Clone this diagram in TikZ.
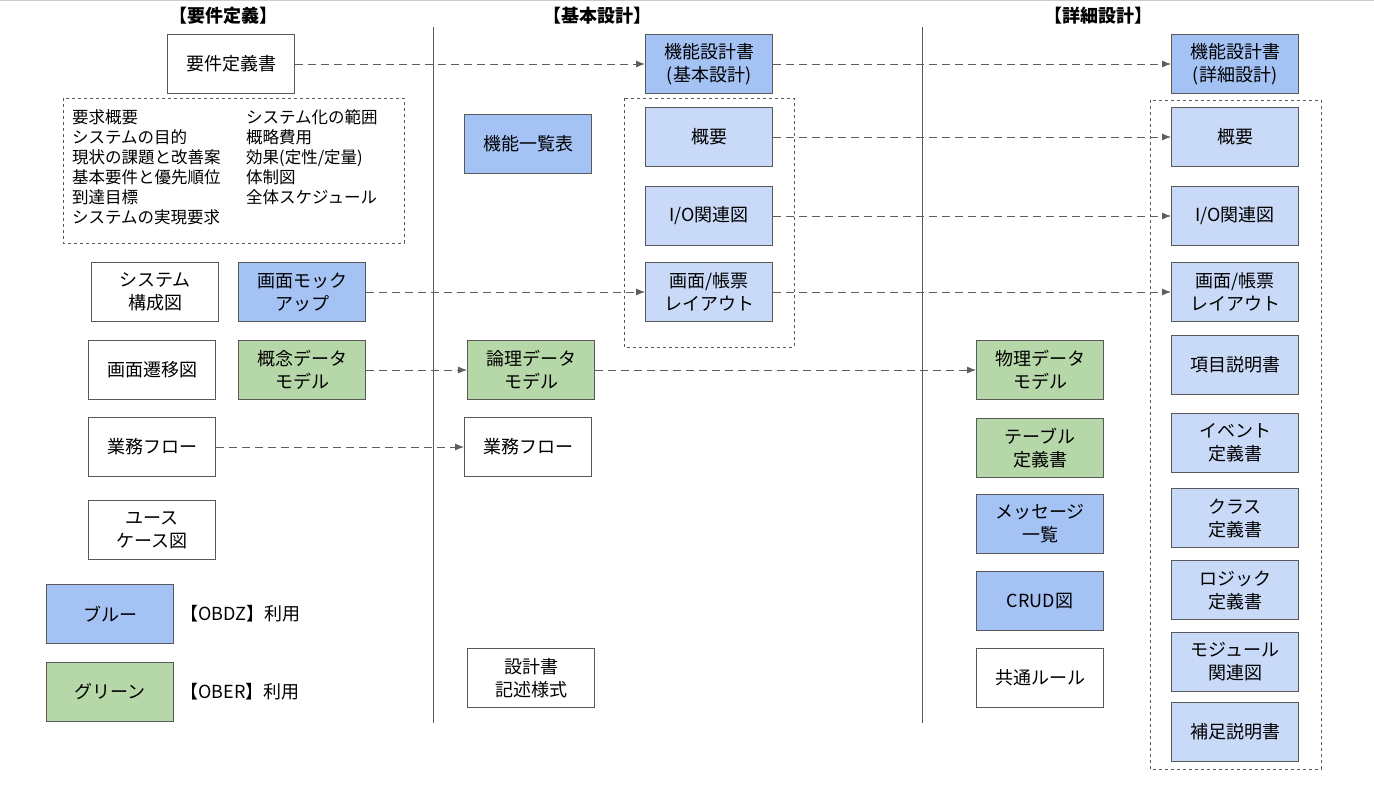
\documentclass[tikz,border=0pt]{standalone}
\usepackage{fontspec}
\setmainfont{Noto Sans CJK JP}
\usetikzlibrary{arrows.meta}
\definecolor{obdzBlue}{HTML}{A4C2F4}
\definecolor{subBlue}{HTML}{C9DAF8}
\definecolor{oberGreen}{HTML}{B6D7A8}
\definecolor{edgeGray}{HTML}{595959}
\definecolor{arrGray}{HTML}{5E5E5E}

\begin{document}
\begin{tikzpicture}[x=1pt, y=-1pt,
  doc/.style={draw=edgeGray, line width=1pt, minimum width=127pt, minimum height=59pt,
    align=center, inner sep=2pt, font=\fontsize{18}{23}\selectfont},
  obdz/.style={doc, fill=obdzBlue},
  subdoc/.style={doc, fill=subBlue},
  ober/.style={doc, fill=oberGreen},
  phase/.style={font=\fontsize{18}{22}\selectfont\bfseries},
  legtxt/.style={font=\fontsize{18}{22}\selectfont},
  grp/.style={draw=edgeGray, dashed, line width=.7pt},
  flow/.style={arrows={-{Latex[length=9pt, width=7pt]}}, draw=arrGray, dash pattern=on 8pt off 5pt, line width=.8pt}]
\useasboundingbox (0,0) rectangle (1374,793);
\draw[black!20, line width=1pt] (0,0.5) -- (1374,0.5);

\node[phase] at (223,16) (phReq) {【要件定義】};
\node[phase] at (597,16) (phBasic) {【基本設計】};
\node[phase] at (1098,16) (phDetail) {【詳細設計】};

\draw[edgeGray, line width=.8pt] (433,27) -- (433,723);
\draw[edgeGray, line width=.8pt] (922,27) -- (922,723);

%requirements
\node[doc] at (231,64) (reqDoc) {要件定義書};
\draw[grp] (63,98) rectangle (404,243);
\node[anchor=north west, align=left, font=\fontsize{16.5}{20}\selectfont, inner sep=0pt]
  at (72,109) (reqListA) {要求概要\\システムの目的\\現状の課題と改善案\\基本要件と優先順位\\到達目標\\システムの実現要求};
\node[anchor=north west, align=left, font=\fontsize{16.5}{20}\selectfont, inner sep=0pt]
  at (246,109) (reqListB) {システム化の範囲\\概略費用\\効果(定性/定量)\\体制図\\全体スケジュール};
\node[doc] at (155,292) (sysConf) {システム\\構成図};
\node[obdz] at (302,292) (mockup) {画面モック\\アップ};
\node[doc] at (152,370) (transDiag) {画面遷移図};
\node[ober] at (302,370) (conceptModel) {概念データ\\モデル};
\node[doc] at (152,447) (flowReq) {業務フロー};
\node[doc] at (152,530) (useCase) {ユース\\ケース図};

%legend
\node[obdz] at (110,614) (legBlue) {ブルー};
\node[ober] at (110,692) (legGreen) {グリーン};
\node[legtxt, anchor=west] at (177,614) (legBlueTxt) {【OBDZ】利用};
\node[legtxt, anchor=west] at (177,692) (legGreenTxt) {【OBER】利用};

%basic design
\node[obdz] at (709,64) (funcBasic) {機能設計書\\(基本設計)};
\draw[grp] (624,98) rectangle (794,347);
\node[subdoc] at (709,137) (outlineB) {概要};
\node[subdoc] at (709,216) (ioB) {I/O関連図};
\node[subdoc] at (709,292) (layoutB) {画面/帳票\\レイアウト};
\node[obdz] at (528,144) (funcList) {機能一覧表};
\node[ober] at (531,370) (logicModel) {論理データ\\モデル};
\node[doc] at (528,447) (flowBasic) {業務フロー};
\node[doc] at (531,678) (styleDoc) {設計書\\記述様式};

%detailed design
\node[ober] at (1040,370) (physModel) {物理データ\\モデル};
\node[ober] at (1040,448) (tableDef) {テーブル\\定義書};
\node[obdz] at (1040,524) (msgList) {メッセージ\\一覧};
\node[obdz] at (1040,601) (crud) {CRUD図};
\node[doc] at (1040,678) (commonRule) {共通ルール};

\node[obdz] at (1235,64) (funcDetail) {機能設計書\\(詳細設計)};
\draw[grp] (1150,100) rectangle (1321,769);
\node[subdoc] at (1235,137) (outlineD) {概要};
\node[subdoc] at (1235,216) (ioD) {I/O関連図};
\node[subdoc] at (1235,292) (layoutD) {画面/帳票\\レイアウト};
\node[subdoc] at (1235,365) (itemDesc) {項目説明書};
\node[subdoc] at (1235,443) (eventDef) {イベント\\定義書};
\node[subdoc] at (1235,518) (classDef) {クラス\\定義書};
\node[subdoc] at (1235,590) (logicDef) {ロジック\\定義書};
\node[subdoc] at (1235,662) (moduleRel) {モジュール\\関連図};
\node[subdoc] at (1235,732) (suppDesc) {補足説明書};

%flows between phases
\draw[flow] (reqDoc) to (funcBasic);
\draw[flow] (funcBasic) to (funcDetail);
\draw[flow] (outlineB) to (outlineD);
\draw[flow] (ioB) to (ioD);
\draw[flow] (mockup) to (layoutB);
\draw[flow] (layoutB) to (layoutD);
\draw[flow] (conceptModel) to (logicModel);
\draw[flow] (logicModel) to (physModel);
\draw[flow] (flowReq) to (flowBasic);

\end{tikzpicture}
\end{document}
